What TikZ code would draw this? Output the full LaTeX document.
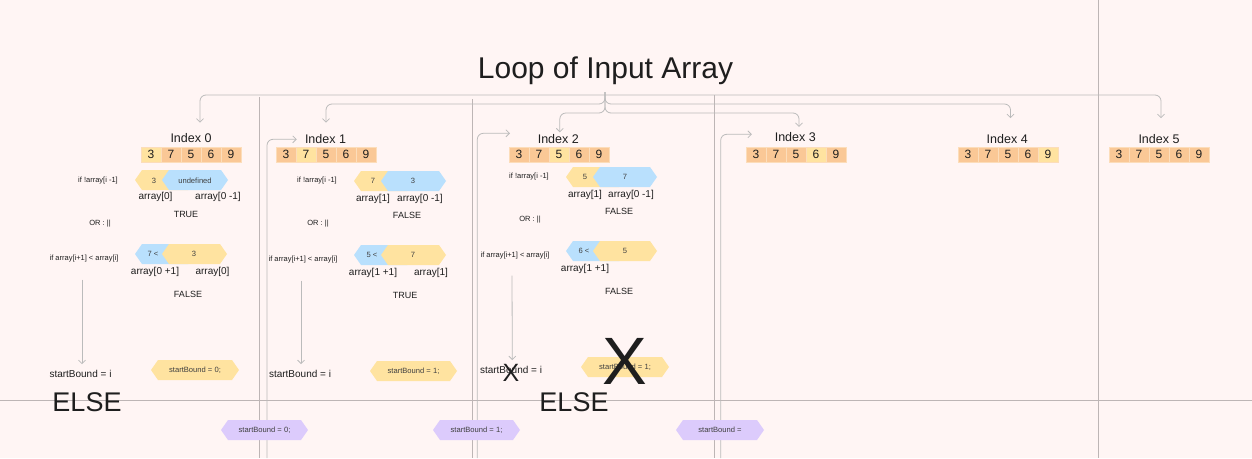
\documentclass[tikz,border=0pt]{standalone}
\usepackage{fontspec}
\setmainfont{Liberation Sans}
\usetikzlibrary{arrows.meta}
\definecolor{bg}{HTML}{FFF5F4}
\definecolor{ink}{HTML}{1E1E1E}
\definecolor{cello}{HTML}{FAC896}
\definecolor{hly}{HTML}{FFE3A0}
\definecolor{cellsep}{HTML}{FCDDBA}
\definecolor{hyel}{HTML}{FFE3A0}
\definecolor{hblu}{HTML}{B9E0FD}
\definecolor{hpur}{HTML}{DCCBFC}
\definecolor{linec}{HTML}{BBBBBB}
\definecolor{sepc}{HTML}{BDB5B5}
\newcommand\hexa[4]{\fill[#4] (#1,#3) -- ({#1+7},{#3-10}) -- ({#2-7},{#3-10}) -- (#2,#3) -- ({#2-7},{#3+10}) -- ({#1+7},{#3+10}) -- cycle;}
\newcommand\arrrow[3]{%
  \foreach \d [count=\k] in {3,7,5,6,9}{%
    \ifnum\k=#3\relax \def\cf{hly}\else \def\cf{cello}\fi
    \node[cell, fill=\cf] (#1c\k) at ({#2+20*\k-10},154.5) {\d};
  }}
\begin{document}
\begin{tikzpicture}[x=1pt,y=-1pt,
  conn/.style={draw=linec, line width=0.8pt, rounded corners=6pt, -{Straight Barb[length=3.5pt,width=7pt]}},
  sep/.style={draw=sepc, line width=0.9pt},
  txt/.style={inner sep=0pt, text=ink},
  title/.style={txt, font=\fontsize{30}{36}\selectfont, anchor=base},
  idx/.style={txt, font=\fontsize{12.5}{15}\selectfont},
  cell/.style={draw=cellsep, line width=0.5pt, minimum width=20pt, minimum height=15pt, inner sep=0pt, text=ink, font=\fontsize{12}{14}\selectfont},
  sm/.style={txt, font=\fontsize{7.5}{9}\selectfont},
  hx/.style={inner sep=0pt, text=ink!85, font=\fontsize{7.6}{9}\selectfont},
  md/.style={txt, font=\fontsize{10}{12}\selectfont},
  bl/.style={txt, font=\fontsize{9}{11}\selectfont},
  big/.style={txt, font=\fontsize{27}{32}\selectfont},
]
\path[use as bounding box, fill=bg] (0,0) rectangle (1252,458);

% separators
\draw[sep] (259,97) -- (259,458);
\draw[sep] (472,99) -- (472,458);
\draw[sep] (714.7,95) -- (714.7,458);
\draw[sep] (1098,0) -- (1098,458);
\draw[sep] (0,400) -- (1252,400);

% title
\node[title] (title) at (605.5,78.3) {Loop of Input Array};

% index labels
\node[idx] (i0) at (191,138) {Index 0};
\node[idx] (i1) at (325.5,139) {Index 1};
\node[idx] (i2) at (558.3,138.7) {Index 2};
\node[idx] (i3) at (795.3,136.7) {Index 3};
\node[idx] (i4) at (1007.2,139) {Index 4};
\node[idx] (i5) at (1159,139) {Index 5};

% arrays
\arrrow{a0}{141}{1}
\arrrow{a1}{276}{2}
\arrrow{a2}{509}{3}
\arrrow{a3}{746}{4}
\arrrow{a4}{958}{5}
\arrrow{a5}{1109}{0}

% connectors from the title
\coordinate (jt) at (605,95);
\coordinate (junc) at (605,92);
\draw[conn] (jt) -| ([shift={(9,-10.5)}]i0.north);
\draw[conn] (jt) -| ([shift={(2,-16)}]i5.north);
\draw[conn] (junc) -- ++(0,12) -| ([shift={(0.5,-11.5)}]i1.north);
\draw[conn] (junc) -- ++(0,12) -| ([shift={(3.3,-16)}]i4.north);
\draw[conn] (junc) -- ++(0,21) -| ([shift={(1.5,-1.5)}]i2.north);
\draw[conn] (junc) -- ++(0,21) -| ([shift={(3.7,-5)}]i3.north);

% connectors from the bottom
\coordinate (b1) at (267,458);
\coordinate (b2) at (477.3,458);
\coordinate (b3) at (720.7,458);
\draw[conn] (b1) |- ([shift={(-8,0.3)}]i1.west);
\draw[conn] (b2) |- ([shift={(-27.6,-5.4)}]i2.west);
\draw[conn] (b3) |- ([shift={(-22.7,-2.4)}]i3.west);

% ---------- column 0 ----------
\node[sm] (q0) at (98,181) {if !array[i -1]};
\hexa{135}{195}{180}{hyel}\hexa{162}{228}{180}{hblu}
\node[hx] (q0a) at (154,180.5) {3};
\node[hx] (q0b) at (195,180.5) {undefined};
\node[md] (l0a) at (155.5,197) {array[0]};
\node[md] (l0b) at (218,197) {array[0 -1]};
\node[bl] (r0a) at (186,214) {TRUE};
\node[sm] (or0) at (100,224) {OR : ||};
\node[sm] (c0) at (84,259) {if array[i+1] < array[i]};
\hexa{135}{195}{254}{hblu}\hexa{162}{227}{254}{hyel}
\node[hx] (c0a) at (153,254) {7 <};
\node[hx] (c0b) at (194,254) {3};
\node[md] (m0a) at (155,272) {array[0 +1]};
\node[md] (m0b) at (212.5,272) {array[0]};
\node[bl] (r0b) at (188,294) {FALSE};
\node[md] (s0) at (80.5,374) {startBound = i};
\draw[conn] ([shift={(-2,17)}]c0.south) -- ([shift={(1.5,-6)}]s0.north);
\hexa{151}{239}{370}{hyel}
\node[hx] (y0) at (195,370) {startBound = 0;};
\node[big] (e0) at (87,402.5) {ELSE};
\hexa{221}{308}{430}{hpur}
\node[hx] (p0) at (264.5,430) {startBound = 0;};

% ---------- column 1 ----------
\node[sm] (q1) at (317,181) {if !array[i -1]};
\hexa{354}{414}{181}{hyel}\hexa{381}{446}{181}{hblu}
\node[hx] (q1a) at (373,181) {7};
\node[hx] (q1b) at (413,181) {3};
\node[md] (l1a) at (373,199) {array[1]};
\node[md] (l1b) at (420,199) {array[0 -1]};
\node[bl] (r1a) at (407,215) {FALSE};
\node[sm] (or1) at (318,224) {OR : ||};
\node[sm] (c1) at (303,260) {if array[i+1] < array[i]};
\hexa{354}{414}{255}{hblu}\hexa{381}{446}{255}{hyel}
\node[hx] (c1a) at (372,255) {5 <};
\node[hx] (c1b) at (413,255) {7};
\node[md] (m1a) at (373,273) {array[1 +1]};
\node[md] (m1b) at (431,273) {array[1]};
\node[bl] (r1b) at (405,295) {TRUE};
\node[md] (s1) at (300,374) {startBound = i};
\draw[conn] ([shift={(-2,17)}]c1.south) -- ([shift={(1,-6)}]s1.north);
\hexa{370}{457}{371}{hyel}
\node[hx] (y1) at (413.5,371) {startBound = 1;};
\hexa{433}{520}{430}{hpur}
\node[hx] (p1) at (476.5,430) {startBound = 1;};

% ---------- column 2 ----------
\node[sm] (q2) at (529,177) {if !array[i -1]};
\hexa{566}{626}{177}{hyel}\hexa{593}{657}{177}{hblu}
\node[hx] (q2a) at (585,177) {5};
\node[hx] (q2b) at (625,177) {7};
\node[md] (l2a) at (585,195) {array[1]};
\node[md] (l2b) at (631,195) {array[0 -1]};
\node[bl] (r2a) at (619,211) {FALSE};
\node[sm] (or2) at (530,220) {OR : ||};
\node[sm] (c2) at (515,256) {if array[i+1] < array[i]};
\hexa{566}{626}{251}{hblu}\hexa{593}{657}{251}{hyel}
\node[hx] (c2a) at (584,251) {6 <};
\node[hx] (c2b) at (625,251) {5};
\node[md] (m2a) at (585,269) {array[1 +1]};
\node[bl] (r2b) at (619,291) {FALSE};
\node[md] (s2) at (511,370) {startBound = i};
\draw[conn] ([shift={(-3,16)}]c2.south) -- ([shift={(1.3,-6)}]s2.north);
\hexa{581}{669}{367}{hyel}
\node[hx] (y2) at (625,367) {startBound = 1;};
\node[big] (e2) at (574,402.5) {ELSE};
\node[txt, font=\fontsize{25}{30}\selectfont] (x1) at (511,373.3) {X};
\node[txt, font=\fontsize{67}{80}\selectfont] (x2) at (625,361.7) {X};
\hexa{676}{764}{430}{hpur}
\node[hx] (p2) at (720,430) {startBound =};
\end{tikzpicture}
\end{document}
